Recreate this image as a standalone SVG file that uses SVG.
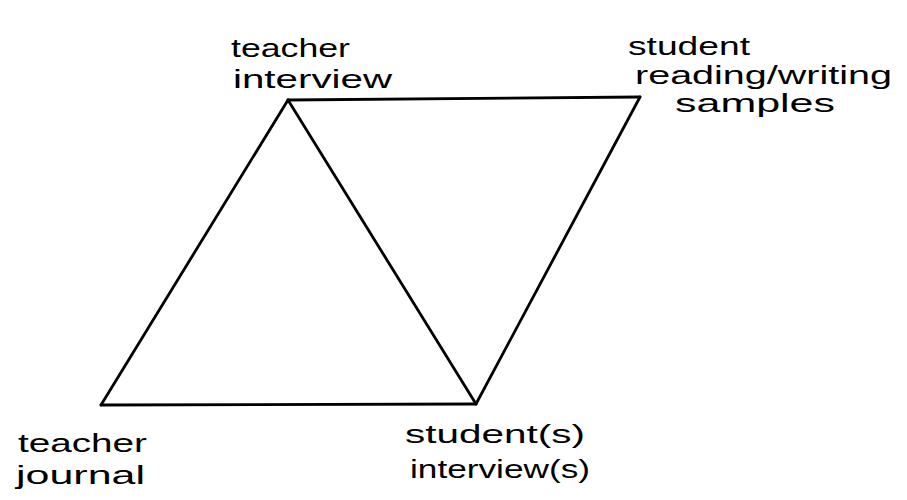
<svg xmlns="http://www.w3.org/2000/svg" width="907" height="500" viewBox="0 0 907 500">
<style>
.e{stroke:#000;stroke-width:2.8;fill:none;stroke-linecap:round;stroke-linejoin:round}
.t{font-family:"Liberation Sans",Arial,sans-serif;font-size:26px;fill:#000}
</style>
<rect width="907" height="500" fill="#fff"/>
<g id="connectors">
<line class="e" x1="288" y1="100" x2="640" y2="97"/>
<line class="e" x1="288" y1="100" x2="101" y2="405"/>
<line class="e" x1="288" y1="100" x2="476" y2="404"/>
<line class="e" x1="640" y1="97" x2="476" y2="404"/>
<line class="e" x1="101" y1="405" x2="476" y2="404"/>
</g>
<g id="teacher-interview">
<text class="t" x="231" y="57" textLength="119" lengthAdjust="spacingAndGlyphs">teacher</text>
<text class="t" x="233" y="88" textLength="159" lengthAdjust="spacingAndGlyphs">interview</text>
</g>
<g id="student-samples">
<text class="t" x="628" y="55" textLength="122" lengthAdjust="spacingAndGlyphs">student</text>
<text class="t" x="635" y="84" textLength="257" lengthAdjust="spacingAndGlyphs">reading/writing</text>
<text class="t" x="675" y="112" textLength="160" lengthAdjust="spacingAndGlyphs">samples</text>
</g>
<g id="teacher-journal">
<text class="t" x="18" y="452" textLength="129" lengthAdjust="spacingAndGlyphs">teacher</text>
<text class="t" x="16" y="484" textLength="129" lengthAdjust="spacingAndGlyphs">journal</text>
</g>
<g id="student-interviews">
<text class="t" x="405" y="443" textLength="180" lengthAdjust="spacingAndGlyphs">student(s)</text>
<text class="t" x="410" y="478" textLength="180" lengthAdjust="spacingAndGlyphs">interview(s)</text>
</g>
</svg>
